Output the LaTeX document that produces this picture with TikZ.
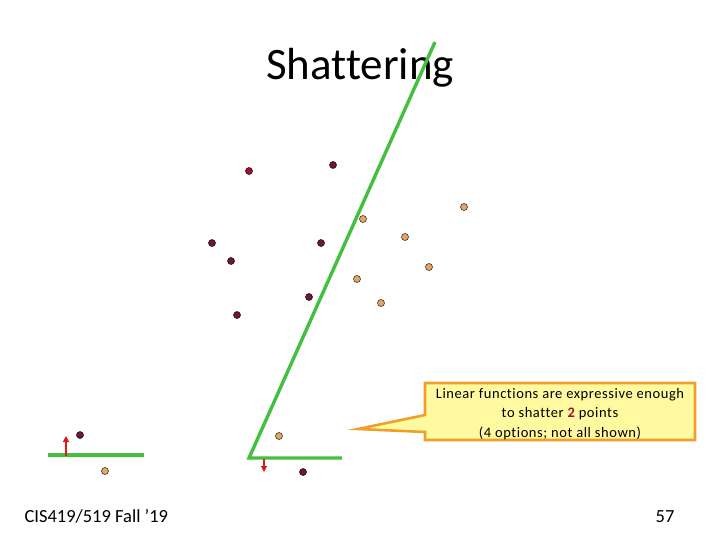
\documentclass[tikz,border=0pt]{standalone}
\usepackage{fontspec}
\setmainfont[Ligatures=NoCommon]{Carlito}
\usetikzlibrary{arrows.meta}
\definecolor{dkpt}{HTML}{6A1838}
\definecolor{rdpt}{HTML}{9E1030}
\definecolor{ltpt}{HTML}{E0A868}
\definecolor{sepgreen}{HTML}{44C040}
\definecolor{boxfill}{HTML}{FFF9A0}
\definecolor{boxedge}{HTML}{F0A028}
\definecolor{arrred}{HTML}{E01818}
\begin{document}
\begin{tikzpicture}[x=1pt,y=-1pt,
  negpt/.style={circle,draw=black!80!dkpt,fill=dkpt,line width=0.5pt,minimum size=7pt,inner sep=0pt},
  pospt/.style={circle,draw=black!70!ltpt,fill=ltpt,line width=0.6pt,minimum size=7pt,inner sep=0pt},
  sepline/.style={draw=sepgreen,line width=3.4pt},
  normalarrow/.style={draw=arrred,line width=1.2pt,-{Triangle[length=6pt,width=6pt]}}]
\useasboundingbox (0,0) rectangle (720,540);
\fill[white] (0,0) rectangle (720,540);
% title
\node[font=\fontsize{45}{50}\selectfont] (title) at (360,68) {Shattering};
% points
\node[negpt,fill=rdpt] (n1) at (249,171) {};
\node[negpt] (n2) at (333,165) {};
\node[negpt] (n3) at (212,243) {};
\node[negpt] (n4) at (231,261) {};
\node[negpt] (n5) at (321,243) {};
\node[negpt] (n6) at (309,297) {};
\node[negpt] (n7) at (237,315) {};
\node[negpt] (n8) at (80,435) {};
\node[negpt] (n9) at (303,472) {};
\node[pospt] (p1) at (363,219) {};
\node[pospt] (p2) at (464,207) {};
\node[pospt] (p3) at (405,237) {};
\node[pospt] (p4) at (429,267) {};
\node[pospt] (p5) at (357,279) {};
\node[pospt] (p6) at (381,303) {};
\node[pospt] (p7) at (279,436) {};
\node[pospt] (p8) at (105,471) {};
% separators
\coordinate (la) at (48,455);
\coordinate (lb) at (144,455);
\coordinate (ta) at (435,42);
\coordinate (tb) at (249,458);
\coordinate (hb) at (342,458);
\draw[sepline] (la) -- (lb);
\draw[sepline,line join=miter] (ta) -- (tb) -- (hb);
% normals
\coordinate (a1s) at (66,456);
\coordinate (a1e) at (66,436);
\coordinate (a2s) at (264,459);
\coordinate (a2e) at (264,472);
\draw[normalarrow] (a1s) -- (a1e);
\draw[normalarrow] (a2s) -- (a2e);
% callout
\coordinate (tip) at (358,429);
\draw[draw=boxedge,fill=boxfill,line width=2.6pt,line join=miter]
  (425,383) -- (695,383) -- (695,440) -- (425,440) -- (425,432) -- (tip) -- (425,415) -- cycle;
\node[font=\fontsize{14.5}{19.5}\selectfont\addfontfeature{LetterSpace=4},align=center] (callout) at (560,414)
  {Linear functions are expressive enough\\to shatter {\color{rdpt}\bfseries 2} points\\(4 options; not all shown)};
% footer
\node[font=\fontsize{18.5}{21}\selectfont,anchor=base west] (foot) at (21,522) {CIS419/519 Fall ’19};
\node[font=\fontsize{18.5}{21}\selectfont,anchor=base east] (page) at (678,522) {57};
\end{tikzpicture}
\end{document}
